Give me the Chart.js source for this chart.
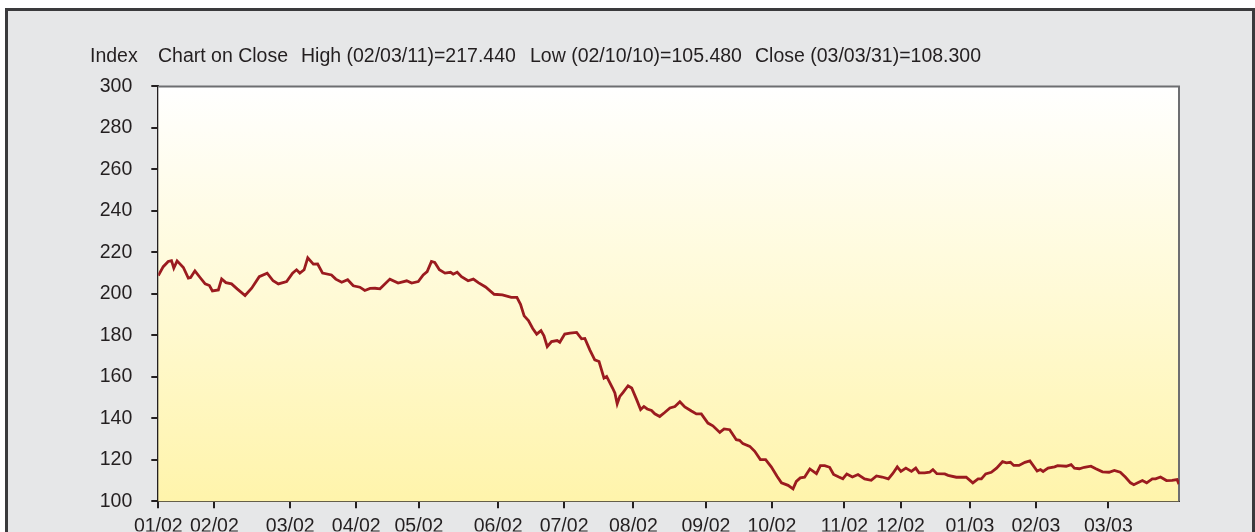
<!DOCTYPE html>
<html>
<head>
<meta charset="utf-8">
<script src="https://cdn.jsdelivr.net/npm/chart.js@4.4.0/dist/chart.umd.min.js"></script>
<style>
  html, body { margin: 0; padding: 0; background: #ffffff; overflow: hidden; }
  #frame {
    position: absolute; left: 5px; top: 8px; width: 1244px; height: 600px;
    background: #e6e7e8; border: 3px solid #3a3a3c;
  }
  #wrap { position: absolute; left: 0; top: 0; width: 1255px; height: 532px; }
</style>
</head>
<body>
<div id="frame"></div>
<div id="wrap"><canvas id="canvas1" width="1255" height="532"></canvas></div>
<script>
// month start positions (trading-day index) and their labels
var monthPos = [0, 17, 40, 60, 79, 103, 123, 144, 166, 186, 208, 225, 246, 266, 288];
var monthLabels = ['01/02', '02/02', '03/02', '04/02', '05/02', '06/02', '07/02', '08/02',
                   '09/02', '10/02', '11/02', '12/02', '01/03', '02/03', '03/03'];
var lastDay = 309.4;

// daily close
var dayIdx = [
  0.0, 1.5, 3.0, 4.0, 4.7, 5.7, 7.6, 9.1, 9.8, 11.1, 12.6, 14.2, 15.5, 16.4, 18.2, 19.2,
  20.5, 22.2, 23.9, 26.3, 28.3, 30.6, 33.0, 34.8, 36.4, 38.9, 40.7, 41.9, 42.9, 44.2, 45.3,
  47.0, 48.3, 49.8, 52.5, 53.8, 55.6, 57.4, 59.1, 61.1, 62.6, 64.2, 65.7, 67.2, 70.2, 72.7,
  75.3, 76.8, 78.8, 80.3, 81.5, 82.8, 83.8, 85.2, 86.9, 88.6, 89.4, 90.6, 91.9, 93.9, 95.5,
  97.0, 99.2, 101.8, 104.3, 107.0, 108.7, 109.8, 110.9, 112.2, 113.5, 114.7, 116.0, 116.9,
  117.9, 119.2, 120.9, 121.7, 123.2, 124.8, 126.8, 128.3, 129.3, 130.8, 132.3, 133.6, 135.1,
  135.9, 137.7, 138.4, 139.1, 139.9, 140.9, 142.4, 143.5, 145.0, 146.2, 147.2, 148.2, 149.5,
  150.5, 152.0, 153.5, 155.1, 156.6, 158.1, 159.6, 161.6, 163.1, 164.6, 166.6, 168.1, 170.2,
  171.5, 173.2, 175.2, 176.2, 177.2, 179.3, 180.8, 182.5, 184.1, 185.8, 187.6, 188.9, 190.9,
  192.4, 193.4, 194.6, 195.9, 197.5, 199.5, 200.7, 202.0, 203.5, 204.7, 206.3, 207.5, 208.7,
  210.4, 212.1, 214.1, 216.1, 217.7, 219.4, 221.3, 222.6, 224.0, 225.1, 226.6, 228.3, 229.6,
  230.6, 232.3, 233.8, 234.8, 236.0, 238.4, 239.4, 241.9, 244.9, 246.9, 248.5, 249.5, 250.8,
  252.5, 254.1, 255.9, 257.1, 258.3, 259.3, 260.9, 262.7, 264.2, 266.4, 267.4, 268.2, 269.7,
  271.7, 272.6, 275.2, 276.7, 277.7, 279.2, 280.7, 282.7, 284.2, 286.2, 288.2, 289.8, 291.6,
  293.2, 294.7, 295.7, 296.9, 298.3, 299.6, 301.3, 302.3, 303.8, 305.6, 307.3, 308.8, 309.4
];
var closeVals = [
  208.8, 213.1, 215.6, 216.0, 212.4, 215.9, 212.7, 207.6, 207.9, 211.1, 208.0, 204.8, 204.0, 201.4, 201.9, 207.2,
  205.4, 204.8, 202.4, 199.2, 202.7, 208.3, 210.0, 206.3, 204.8, 205.9, 210.0, 211.6, 210.0, 211.6, 217.4,
  214.3, 214.4, 210.0, 209.1, 207.1, 205.6, 206.8, 203.9, 203.2, 201.6, 202.6, 202.7, 202.4, 207.1, 205.2,
  206.3, 205.2, 205.9, 209.1, 210.7, 215.6, 215.1, 211.6, 210.0, 210.4, 209.5, 210.4, 208.3, 206.3, 207.1,
  205.4, 203.3, 199.8, 199.5, 198.3, 198.3, 195.0, 189.4, 187.1, 183.3, 180.6, 182.3, 179.8,
  174.6, 177.0, 177.5, 176.7, 180.6, 181.1, 181.4, 178.3, 178.5, 173.0, 168.2, 167.4, 159.4,
  160.2, 154.6, 152.2, 147.0, 150.6, 152.5, 155.7, 154.6, 149.0, 144.2, 145.7, 144.5, 143.8,
  142.2, 140.9, 142.8, 145.0, 145.7, 148.0, 145.5, 143.5, 142.1, 142.1, 137.7, 136.4, 133.2,
  134.9, 134.5, 129.7, 129.4, 127.8, 126.5, 124.1, 120.1, 120.1, 116.6, 112.0, 108.9, 107.7,
  106.0, 109.6, 111.3, 111.6, 115.6, 113.3, 117.2, 117.2, 116.4, 112.9, 111.7, 110.9, 113.2,
  111.7, 112.9, 110.8, 110.1, 112.2, 111.7, 110.8, 113.3, 116.6, 114.4, 116.0, 114.4, 116.0,
  113.7, 113.7, 114.0, 115.3, 113.3, 113.2, 112.5, 111.6, 111.6, 108.9, 110.8, 110.8, 113.2,
  114.0, 116.0, 119.1, 118.5, 118.8, 117.3, 117.3, 118.8, 119.5, 114.6, 115.3, 114.4, 116.0,
  116.6, 117.2, 116.9, 117.7, 116.0, 115.7, 116.4, 116.9, 115.7, 114.2, 114.0, 114.9, 114.0,
  111.6, 108.9, 108.0, 108.9, 110.0, 108.9, 110.8, 110.8, 111.7, 110.0, 110.1, 110.5, 108.3
];

var headerTexts = ['Index', 'Chart on Close', 'High (02/03/11)=217.440',
                   'Low (02/10/10)=105.480', 'Close (03/03/31)=108.300'];

var FONT = '"Liberation Sans", Arial, sans-serif';
var FSIZE = 19.5;
var INK = '#231f20';

var points = dayIdx.map(function (d, i) { return { x: d, y: closeVals[i] }; });

var plotDeco = {
    id: 'plotDeco',
    beforeDatasetsDraw: function (chart) {
        var a = chart.chartArea, ctx = chart.ctx;
        var g = ctx.createLinearGradient(0, a.top, 0, a.bottom);
        g.addColorStop(0, '#ffffff');
        g.addColorStop(0.5, '#fffad6');
        g.addColorStop(1, '#fff4ab');
        ctx.save();
        ctx.fillStyle = g;
        ctx.fillRect(a.left, a.top, a.right - a.left, a.bottom - a.top);
        ctx.strokeStyle = '#6d6e71';
        ctx.lineWidth = 2;
        ctx.beginPath();
        ctx.moveTo(a.left, a.top);
        ctx.lineTo(a.right, a.top);
        ctx.lineTo(a.right, a.bottom);
        ctx.stroke();
        ctx.restore();
    },
    afterDraw: function (chart) {
        var ctx = chart.ctx;
        var xs = [90, 158, 301, 530, 755];
        ctx.save();
        ctx.font = FSIZE + 'px ' + FONT;
        ctx.fillStyle = INK;
        ctx.textBaseline = 'middle';
        headerTexts.forEach(function (t, i) { ctx.fillText(t, xs[i], 57); });
        ctx.restore();
    }
};

new Chart(document.getElementById('canvas1'), {
    type: 'line',
    data: {
        datasets: [{
            data: points,
            borderColor: '#9b1b1f',
            borderWidth: 2.8,
            pointRadius: 0,
            tension: 0,
            fill: false
        }]
    },
    options: {
        responsive: false,
        animation: false,
        events: [],
        layout: { padding: { left: 0, right: 76, top: 86.4, bottom: 0 } },
        plugins: { legend: { display: false }, tooltip: { enabled: false } },
        scales: {
            x: {
                type: 'linear',
                min: 0,
                max: lastDay,
                afterFit: function (s) { s.height = 30.3; },
                afterBuildTicks: function (s) {
                    s.ticks = monthPos.map(function (p) { return { value: p }; });
                },
                ticks: {
                    autoSkip: false,
                    maxRotation: 0,
                    padding: 7,
                    color: INK,
                    font: { family: FONT, size: FSIZE },
                    callback: function (v) {
                        var i = monthPos.indexOf(v);
                        return i >= 0 ? monthLabels[i] : '';
                    }
                },
                grid: { drawOnChartArea: false, tickLength: 7, color: INK, lineWidth: 2 },
                border: { color: INK, width: 2 }
            },
            y: {
                min: 100,
                max: 300,
                afterFit: function (s) { s.width = 158.3; },
                ticks: {
                    stepSize: 20,
                    padding: 19,
                    color: INK,
                    font: { family: FONT, size: FSIZE }
                },
                grid: { drawOnChartArea: false, tickLength: 7, color: INK, lineWidth: 2 },
                border: { color: INK, width: 2 }
            }
        }
    },
    plugins: [plotDeco]
});
</script>
</body>
</html>
